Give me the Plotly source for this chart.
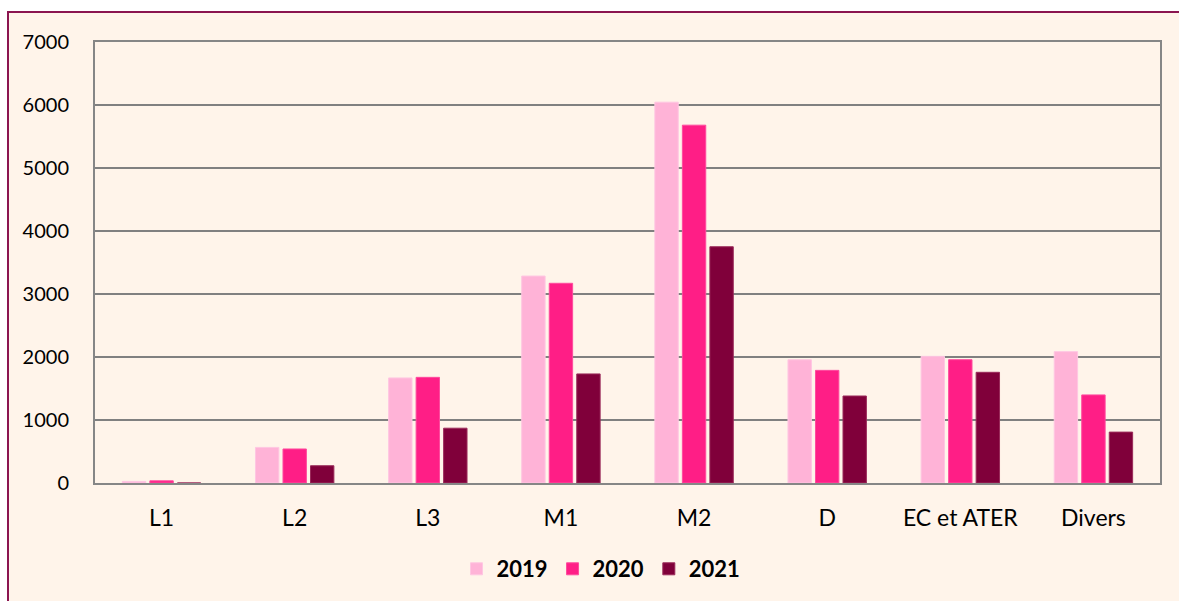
import plotly.graph_objects as go

categories = ["L1", "L2", "L3", "M1", "M2", "D", "EC et ATER", "Divers"]
years = ["2019", "2020", "2021"]
v2019 = [25, 565, 1668, 3285, 6045, 1956, 2010, 2085]
v2020 = [35, 540, 1677, 3170, 5680, 1788, 1957, 1398]
v2021 = [0, 274, 870, 1731, 3750, 1381, 1757, 808]
y_ticks = [0, 1000, 2000, 3000, 4000, 5000, 6000, 7000]

colors = ["#FFB3D7", "#FF1E86", "#80003A"]
edges = ["#FFC6E2", "#FF4A9E", "#9A2A5A"]

W, H = 1179, 601
L, T = 95, 42
pw, ph = 1065, 442
R, B = W - L - pw, H - T - ph

fig = go.Figure()
for name, vals, c, e in zip(years, [v2019, v2020, v2021], colors, edges):
    fig.add_trace(go.Bar(name=name, x=categories, y=vals,
                         marker=dict(color=c, line=dict(color=e, width=1))))

def px_x(p):
    return (p - L) / pw

def px_y(p):
    return (H - B - p) / ph

fig.add_shape(type="rect", xref="paper", yref="paper",
              x0=px_x(8), x1=px_x(1200), y0=px_y(620), y1=px_y(12),
              line=dict(color="#8B1550", width=2), fillcolor="#FFF4EA",
              layer="below")

fig.update_layout(
    width=W, height=H,
    margin=dict(l=L, r=R, t=T, b=B),
    paper_bgcolor="white",
    plot_bgcolor="rgba(0,0,0,0)",
    barmode="group", bargap=0.38, bargroupgap=0.15,
    font=dict(family="Lato", size=20, color="#000000"),
    showlegend=True,
    legend=dict(orientation="h", x=px_x(601), xanchor="center",
                y=px_y(569), yanchor="middle",
                font=dict(family="Lato", size=22, color="#000000", weight="bold"),
                bgcolor="rgba(0,0,0,0)", itemwidth=30, traceorder="normal"),
)
fig.update_xaxes(showline=True, linecolor="#868686", linewidth=2, mirror=True,
                 showgrid=False, ticks="", ticklabelstandoff=13,
                 tickfont=dict(family="Lato", size=23))
fig.update_yaxes(range=[0, 7000], tickvals=y_ticks, showgrid=True,
                 gridcolor="#808080", gridwidth=2, showline=True,
                 linecolor="#868686", linewidth=2, mirror=True, zeroline=False,
                 ticks="", ticklabelstandoff=20,
                 tickfont=dict(family="Lato", size=20))

fig.write_html("out.html",
               config={"displayModeBar": False},
               post_script="document.body.style.margin='0';"
                           "document.body.style.overflow='hidden';")
